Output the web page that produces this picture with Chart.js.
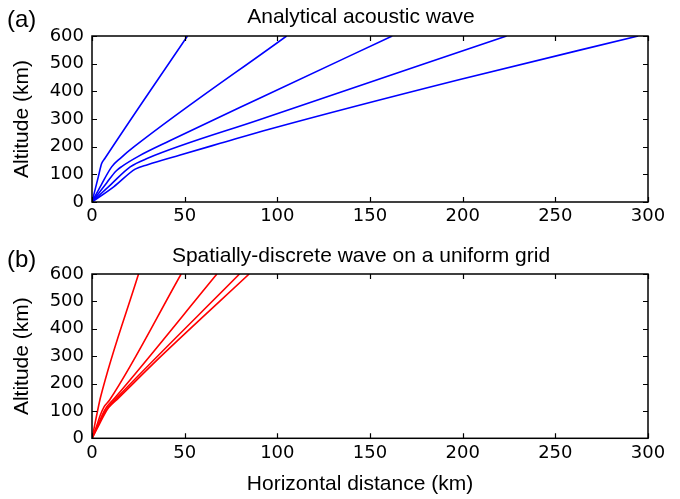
<!DOCTYPE html>
<html>
<head>
<meta charset="utf-8">
<script src="https://cdn.jsdelivr.net/npm/chart.js@4/dist/chart.umd.min.js"></script>
<style>
  body { margin: 0; background: #fff; }
  #wrap { position: relative; width: 680px; height: 499px; }
  canvas { position: absolute; left: 0; }
</style>
</head>
<body>
<div id="wrap">
  <canvas id="chartA" width="680" height="240" style="top:0"></canvas>
  <canvas id="chartB" width="680" height="259" style="top:240px"></canvas>
</div>
<script>
// axis ticks
const xTicks = [0, 50, 100, 150, 200, 250, 300];
const yTicks = [0, 100, 200, 300, 400, 500, 600];

// (a) analytical acoustic wave, ray paths (horizontal km, altitude km)
const a1x = [0, 3.4, 5.2, 7, 51.5];
const a1y = [0, 91, 139, 158, 600];
const a2x = [0, 5, 10.6, 15.3, 22.4, 105];
const a2y = [0, 62, 127, 158, 198, 600];
const a3x = [0, 8, 13, 16, 25, 42.2, 90.7, 162];
const a3y = [0, 70, 112, 128, 165, 222, 376, 600];
const a4x = [0, 10, 20.6, 30, 90.7, 223.7];
const a4y = [0, 62, 127, 158, 298, 600];
const a5x = [0, 11.7, 23.3, 30, 47.6, 69.2, 96.1, 198.5, 294.7];
const a5y = [0, 55, 119, 135, 170, 212, 264, 443, 600];

// (b) spatially-discrete wave on a uniform grid
const b1x = [0, 1.5, 3, 4.6, 25.1];
const b1y = [0, 50, 100, 150, 600];
const b2x = [0, 2.5, 4.5, 6.5, 9.5, 48.1];
const b2y = [0, 45, 85, 115, 140, 600];
const b3x = [0, 3, 5.5, 8, 12, 67.4];
const b3y = [0, 45, 85, 115, 145, 600];
const b4x = [0, 3.2, 6, 8.5, 13, 79.6];
const b4y = [0, 45, 85, 112, 145, 600];
const b5x = [0, 3.5, 6.5, 9, 14, 37, 84.8];
const b5y = [0, 45, 85, 112, 145, 298, 600];

const toPts = (xs, ys) => xs.map((x, i) => ({x: x, y: ys[i]}));

const tickFont = {family: 'DejaVu Sans', size: 18};
const labelFont = '21px "Liberation Sans", Arial, sans-serif';

// frame + inward ticks on all four sides, plus panel texts
const decor = (title, letter, titleY, letterY, xTitle) => ({
    id: 'decor',
    afterDraw: (chart) => {
        const ctx = chart.ctx;
        const a = chart.chartArea;
        const xs = chart.scales.x, ys = chart.scales.y;
        ctx.save();
        ctx.strokeStyle = '#000';
        ctx.lineWidth = 1.2;
        ctx.beginPath();
        xTicks.forEach(v => {
            const p = Math.round(xs.getPixelForValue(v)) + 0.5;
            ctx.moveTo(p, a.bottom); ctx.lineTo(p, a.bottom - 5);
            ctx.moveTo(p, a.top); ctx.lineTo(p, a.top + 5);
        });
        yTicks.forEach(v => {
            const p = Math.round(ys.getPixelForValue(v)) + 0.5;
            ctx.moveTo(a.left, p); ctx.lineTo(a.left + 5, p);
            ctx.moveTo(a.right, p); ctx.lineTo(a.right - 5, p);
        });
        ctx.stroke();
        ctx.lineWidth = 1.5;
        ctx.strokeRect(a.left, a.top, a.right - a.left, a.bottom - a.top);

        ctx.fillStyle = '#000';
        ctx.font = labelFont;
        ctx.textBaseline = 'alphabetic';
        ctx.textAlign = 'center';
        ctx.fillText(title, 361, titleY);
        if (xTitle) ctx.fillText(xTitle, 360, 250);
        ctx.textAlign = 'left';
        ctx.font = '24px "Liberation Sans", Arial, sans-serif';
        ctx.fillText(letter, 7, letterY);
        ctx.restore();
    }
});

const makeChart = (id, sets, color, top, xHeight, plug) => {
    new Chart(document.getElementById(id), {
        type: 'scatter',
        data: {
            datasets: sets.map(s => ({
                data: s,
                showLine: true,
                borderColor: color,
                borderWidth: 1.6,
                pointRadius: 0,
                cubicInterpolationMode: 'monotone'
            }))
        },
        options: {
            responsive: false,
            animation: false,
            layout: {padding: {left: 0, right: 32, top: top, bottom: 0}},
            plugins: {legend: {display: false}, tooltip: {enabled: false}},
            scales: {
                x: {
                    type: 'linear', min: 0, max: 300,
                    grid: {display: false, drawTicks: false},
                    border: {display: false},
                    ticks: {stepSize: 50, font: tickFont, color: '#000', padding: 4, maxRotation: 0},
                    afterFit: (s) => { s.height = xHeight; }
                },
                y: {
                    type: 'linear', min: 0, max: 600,
                    grid: {display: false, drawTicks: false},
                    border: {display: false},
                    ticks: {stepSize: 100, font: tickFont, color: '#000', padding: 8},
                    title: {
                        display: true, text: 'Altitude (km)', color: '#000',
                        font: {family: 'Liberation Sans', size: 21},
                        padding: {top: 10, bottom: 0}
                    },
                    afterFit: (s) => { s.width = 92; }
                }
            }
        },
        plugins: [plug]
    });
};

makeChart('chartA',
    [toPts(a1x, a1y), toPts(a2x, a2y), toPts(a3x, a3y), toPts(a4x, a4y), toPts(a5x, a5y)],
    '#0000ff', 36, 38,
    decor('Analytical acoustic wave', '(a)', 23, 27, null));

makeChart('chartB',
    [toPts(b1x, b1y), toPts(b2x, b2y), toPts(b3x, b3y), toPts(b4x, b4y), toPts(b5x, b5y)],
    '#ff0000', 34, 60.7,
    decor('Spatially-discrete wave on a uniform grid', '(b)', 21.5, 26.5, 'Horizontal distance (km)'));
</script>
</body>
</html>
